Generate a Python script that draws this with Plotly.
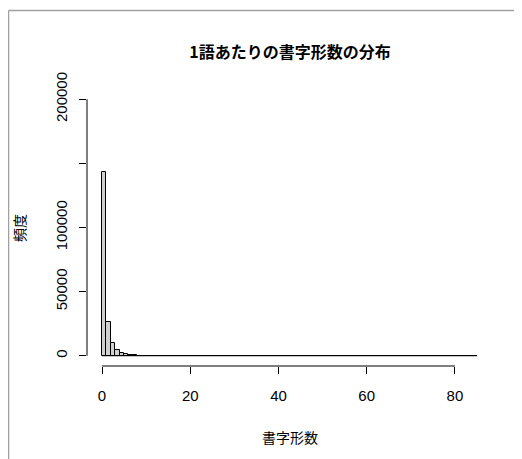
import plotly.graph_objects as go

# Histogram data (bin width 1, breaks 0..85)
bin_edges = list(range(0, 86))
counts = [143000, 26500, 10000, 4200, 2100, 1000, 500, 250, 120, 70,
          40, 25, 15, 10, 8, 6, 5, 4, 3, 3,
          2, 2, 2, 1, 1, 1, 1, 1, 0, 1,
          0, 1, 0, 0, 1, 0, 0, 0, 1, 0,
          0, 0, 0, 0, 0, 1, 0, 0, 0, 0,
          0, 0, 0, 0, 0, 0, 0, 0, 0, 0,
          0, 0, 0, 0, 0, 0, 0, 0, 0, 0,
          0, 0, 0, 0, 0, 0, 0, 0, 0, 0,
          0, 0, 0, 0, 1]
x_ticks = [0, 20, 40, 60, 80]
y_ticks = [0, 50000, 100000, 150000, 200000]
y_tick_labels = ["0", "50000", "100000", "", "200000"]
title_text = "1語あたりの書字形数の分布"
x_title = "書字形数"
y_title = "頻度"

FONT = "Liberation Sans, Arial, Noto Sans CJK JP, sans-serif"
CJK = "Noto Sans CJK JP, sans-serif"

centers = [(bin_edges[i] + bin_edges[i + 1]) / 2 for i in range(len(counts))]
widths = [bin_edges[i + 1] - bin_edges[i] for i in range(len(counts))]

fig = go.Figure()
fig.add_trace(go.Bar(
    x=centers, y=counts, width=widths,
    marker=dict(color="#D0D0D0", line=dict(color="black", width=1)),
    hoverinfo="x+y",
))

# page body has an 8px margin; work in page pixel coordinates
OFF = 8
PW, PH = 522, 459
W, H = PW - OFF, PH - OFF
L, R, T, B = 87 - OFF, 30, 89 - OFF, PH - 366
pw, ph = W - L - R, H - T - B

def px_x(p):
    return (p - OFF - L) / pw

def px_y(p):
    return (H - B - (p - OFF)) / ph

shapes = [
    dict(type="line", xref="x", yref="y", x0=bin_edges[0], x1=bin_edges[-1],
         y0=0, y1=0, line=dict(color="black", width=1)),
    dict(type="line", xref="x", yref="paper", x0=x_ticks[0], x1=x_ticks[-1],
         y0=0, y1=0, line=dict(color="black", width=1)),
    dict(type="line", xref="paper", yref="y", x0=0, x1=0,
         y0=y_ticks[0], y1=y_ticks[-1], line=dict(color="black", width=1)),
    # screenshot frame
    dict(type="line", xref="paper", yref="paper", x0=px_x(8.5), x1=px_x(PW + 5),
         y0=px_y(10.5), y1=px_y(10.5), line=dict(color="#A0A0A0", width=1.5)),
    dict(type="line", xref="paper", yref="paper", x0=px_x(8.5), x1=px_x(8.5),
         y0=px_y(10.5), y1=px_y(PH + 5), line=dict(color="#A0A0A0", width=1.5)),
]

fig.update_layout(
    width=W, height=H,
    margin=dict(l=L, r=R, t=T, b=B, pad=0),
    paper_bgcolor="white", plot_bgcolor="white",
    showlegend=False, bargap=0,
    font=dict(family=FONT, size=15, color="black"),
    title=dict(text="<b>" + title_text + "</b>", x=px_x(290), xref="paper",
               y=1 - (52 - OFF) / H, yref="container", xanchor="center", yanchor="middle",
               font=dict(family=CJK, size=16, color="black")),
    xaxis=dict(range=[-3.4, 88.4], tickvals=x_ticks, ticks="outside", ticklen=7,
               tickcolor="black", showline=False, showgrid=False, zeroline=False,
               ticklabelstandoff=9, tickfont=dict(family=FONT, size=15)),
    yaxis=dict(range=[-8000, 208000], tickvals=y_ticks, ticktext=y_tick_labels,
               ticks="outside", ticklen=7, tickcolor="black", tickangle=-90,
               showline=False, showgrid=False, zeroline=False,
               ticklabelstandoff=6, tickfont=dict(family=FONT, size=15)),
    shapes=shapes,
    annotations=[
        dict(text=x_title, xref="paper", yref="paper", x=px_x(290), y=px_y(437),
             xanchor="center", yanchor="middle", showarrow=False,
             font=dict(family=CJK, size=14, color="black")),
        dict(text=y_title, xref="paper", yref="paper", x=px_x(19), y=px_y(228),
             xanchor="center", yanchor="middle", showarrow=False, textangle=-90,
             font=dict(family=CJK, size=14, color="black")),
    ],
)

fig.write_html("out.html")
